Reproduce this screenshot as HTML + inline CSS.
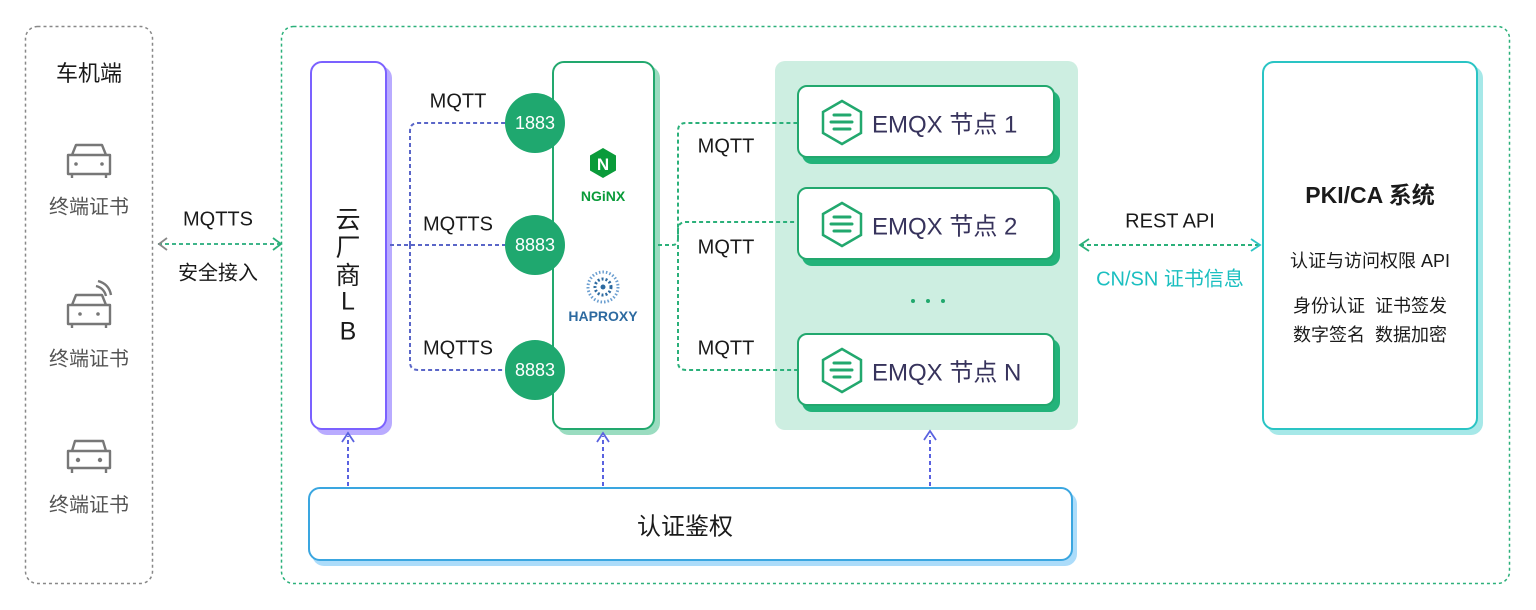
<!DOCTYPE html>
<html><head><meta charset="utf-8">
<style>
body{margin:0;width:1536px;height:610px;background:#fff;position:relative;overflow:hidden;font-family:"Liberation Sans","Noto Sans CJK SC",sans-serif;}
.a{position:absolute;}
.t{position:absolute;transform:translate(-50%,-50%);white-space:nowrap;color:#1a1a1a;}
.node{position:absolute;left:797px;width:258px;height:73px;background:#fff;border:2px solid #22a86e;border-radius:10px;box-shadow:5px 6px 0 #22b37a;box-sizing:border-box;}
.node span{position:absolute;left:73px;top:50%;transform:translateY(-50%);font-size:24px;color:#37335c;white-space:nowrap;}
.port{position:absolute;width:60px;height:60px;border-radius:50%;background:#1fa86f;color:#fff;font-size:18px;display:flex;align-items:center;justify-content:center;transform:translate(-50%,-50%);}
</style></head><body>
<svg class="a" style="left:0;top:0" width="1536" height="610">
<rect x="25.5" y="26.5" width="127" height="557" rx="12" fill="none" stroke="#888" stroke-width="1.5" stroke-dasharray="3 3"/>
<rect x="281.5" y="26.5" width="1228" height="557" rx="12" fill="none" stroke="#2bb07a" stroke-width="1.5" stroke-dasharray="3 3"/>
</svg>

<div class="a" style="left:310px;top:61px;width:77px;height:369px;border:2px solid #7b61ff;border-radius:12px;box-shadow:5px 5px 0 #b9abff;background:#fff;box-sizing:border-box"></div>
<div class="a" style="left:552px;top:61px;width:103px;height:369px;border:2px solid #22a86e;border-radius:12px;box-shadow:5px 5px 0 #9adcc0;background:#fff;box-sizing:border-box"></div>
<div class="a" style="left:775px;top:61px;width:303px;height:369px;background:#cdeee1;border-radius:10px"></div>
<div class="a" style="left:1262px;top:61px;width:216px;height:369px;border:2px solid #2ac4c4;border-radius:12px;box-shadow:5px 5px 0 #a6e8e8;background:#fff;box-sizing:border-box"></div>
<div class="a" style="left:308px;top:487px;width:765px;height:74px;border:2px solid #3aa6e0;border-radius:12px;box-shadow:4px 5px 0 #acdcfa;background:#fff;box-sizing:border-box"></div>

<svg class="a" style="left:0;top:0" width="1536" height="610">
<g fill="none" stroke-width="2" stroke-dasharray="4 3">
<path d="M158 244 H282" stroke="#3fb58a"/>
<path d="M390 245 H505 M410 245 V131 Q410 123 418 123 H505 M410 245 V362 Q410 370 418 370 H505" stroke="#5a66c8"/>
<path d="M658 245 H672 Q678 245 678 239 V131 Q678 123 686 123 H797 M678 239 V230 Q678 222 686 222 H797 M678 245 V362 Q678 370 686 370 H797" stroke="#2bb07a"/>
<path d="M1080 245 H1260" stroke="#2bb07a"/>
<path d="M348 486 V436 M603 486 V436 M930 486 V436" stroke="#5a62e0"/>
</g>
<g fill="none" stroke-width="1.8">
<path d="M167 238 L159 244 L167 250" stroke="#888"/>
<path d="M273 238 L281 244 L273 250" stroke="#2bb07a"/>
<path d="M1089 239 L1080 245 L1089 251" stroke="#2bb07a"/>
<path d="M1251 239 L1260 245 L1251 251" stroke="#2ac4c4"/>
<path d="M342 442 L348 433 L354 442 M597 442 L603 433 L609 442 M924 440 L930 431 L936 440" stroke="#5a62e0"/>
</g>
<g fill="none" stroke="#777" stroke-width="2.4" stroke-linejoin="round">
<path d="M72 155 L76 145 H102 L106 155 M68 155 H110 V174 H68 Z M72 174 V178 M106 174 V178"/>
<path d="M72 305 L76 295 H102 L106 305 M68 305 H110 V324 H68 Z M72 324 V328 M106 324 V328 M96 286 Q104 288 106 296 M98 281 Q109 284 111 295"/>
<path d="M72 451 L75 441 H103 L106 451 Z M68 451 H110 V468 H68 Z M72 468 V473 M106 468 V473"/>
</g>
<g fill="#777"><circle cx="76" cy="164" r="1.8"/><circle cx="102" cy="164" r="1.8"/><circle cx="80" cy="314" r="1.8"/><circle cx="98" cy="314" r="1.8"/><circle cx="78" cy="460" r="2.2"/><circle cx="100" cy="460" r="2.2"/></g>
<polygon points="603,148 616,155.5 616,170.5 603,178 590,170.5 590,155.5" fill="#0a9b3a"/>
<text x="603" y="170" fill="#fff" font-size="17" font-weight="bold" text-anchor="middle" font-family="Liberation Sans">N</text>
<text x="603" y="201" fill="#0a9b3a" font-size="14" font-weight="bold" text-anchor="middle" font-family="Liberation Sans">NGiNX</text>
<circle cx="603" cy="287" r="15" fill="none" stroke="#6a9ed0" stroke-width="3" stroke-dasharray="1.5 2"/>
<circle cx="603" cy="287" r="8" fill="none" stroke="#2d6aa0" stroke-width="3" stroke-dasharray="2 2"/>
<circle cx="603" cy="287" r="2.5" fill="#2d6aa0"/>
<text x="603" y="321" fill="#2d6aa0" font-size="14" font-weight="bold" text-anchor="middle" font-family="Liberation Sans">HAPROXY</text>
<g fill="#22a86e"><circle cx="913" cy="301" r="2"/><circle cx="928" cy="301" r="2"/><circle cx="943" cy="301" r="2"/></g>
</svg>

<div class="node" style="top:85px"><span>EMQX 节点 1</span></div>
<div class="node" style="top:187px"><span>EMQX 节点 2</span></div>
<div class="node" style="top:333px"><span>EMQX 节点 N</span></div>
<svg class="a" style="left:0;top:0" width="1536" height="610">
<g fill="none" stroke="#22a86e" stroke-width="2.5">
<polygon points="842,101 861,112 861,133 842,144 823,133 823,112"/>
<polygon points="842,203 861,214 861,235 842,246 823,235 823,214"/>
<polygon points="842,349 861,360 861,381 842,392 823,381 823,360"/>
</g>
<g stroke="#22a86e" stroke-width="3" stroke-linecap="round">
<path d="M834 115 H850 M831 122 H852 M834 129 H850"/>
<path d="M834 217 H850 M831 224 H852 M834 231 H850"/>
<path d="M834 363 H850 M831 370 H852 M834 377 H850"/>
</g>
</svg>

<div class="port" style="left:535px;top:123px">1883</div>
<div class="port" style="left:535px;top:245px">8883</div>
<div class="port" style="left:535px;top:370px">8883</div>

<div class="t" style="left:89px;top:72px;font-size:22px">车机端</div>
<div class="t" style="left:89px;top:205px;font-size:20px;color:#555">终端证书</div>
<div class="t" style="left:89px;top:357px;font-size:20px;color:#555">终端证书</div>
<div class="t" style="left:89px;top:503px;font-size:20px;color:#555">终端证书</div>
<div class="t" style="left:218px;top:220px;font-size:20px">MQTTS</div>
<div class="t" style="left:218px;top:271px;font-size:20px">安全接入</div>

<div class="t" style="left:348px;top:218px;font-size:25px">云</div>
<div class="t" style="left:348px;top:246px;font-size:25px">厂</div>
<div class="t" style="left:348px;top:274px;font-size:25px">商</div>
<div class="t" style="left:348px;top:302px;font-size:25px">L</div>
<div class="t" style="left:348px;top:332px;font-size:25px">B</div>

<div class="t" style="left:458px;top:102px;font-size:20px">MQTT</div>
<div class="t" style="left:458px;top:225px;font-size:20px">MQTTS</div>
<div class="t" style="left:458px;top:349px;font-size:20px">MQTTS</div>
<div class="t" style="left:726px;top:147px;font-size:20px">MQTT</div>
<div class="t" style="left:726px;top:248px;font-size:20px">MQTT</div>
<div class="t" style="left:726px;top:349px;font-size:20px">MQTT</div>

<div class="t" style="left:1170px;top:222px;font-size:20px">REST API</div>
<div class="t" style="left:1170px;top:277px;font-size:20px;color:#1bbfc0">CN/SN 证书信息</div>

<div class="t" style="left:1370px;top:193px;font-size:23px;font-weight:bold">PKI/CA 系统</div>
<div class="t" style="left:1370px;top:260px;font-size:18px">认证与访问权限 API</div>
<div class="t" style="left:1370px;top:305px;font-size:18px">身份认证&nbsp;&nbsp;证书签发</div>
<div class="t" style="left:1370px;top:334px;font-size:18px">数字签名&nbsp;&nbsp;数据加密</div>

<div class="t" style="left:685px;top:524px;font-size:24px">认证鉴权</div>
</body></html>
